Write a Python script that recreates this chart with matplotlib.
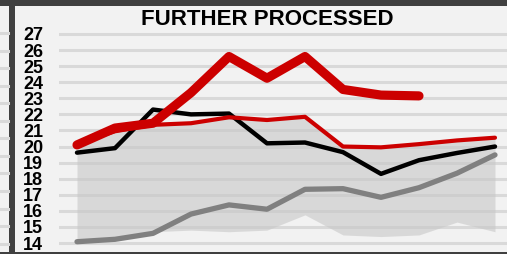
import matplotlib.pyplot as plt
from matplotlib.patches import Rectangle
from matplotlib.lines import Line2D
import numpy as np

plt.rcParams['font.family'] = ['Liberation Sans', 'DejaVu Sans']

W, H = 507, 254

# monthly points (no x labels shown on the chart)
months = list(range(12))
yticks = list(range(14, 28))

# current year (thick red, stops early)
current = [20.1, 21.15, 21.45, 23.35, 25.6, 24.25, 25.6, 23.55, 23.2, 23.15]
# previous year (thin red)
previous = [20.2, 20.95, 21.35, 21.45, 21.82, 21.65, 21.85, 20.0, 19.95, 20.15, 20.38, 20.55]
# average (black)
average = [19.62, 19.9, 22.3, 22.0, 22.05, 20.2, 20.25, 19.65, 18.3, 19.15, 19.6, 20.0]
# low series (grey)
low_line = [14.08, 14.23, 14.6, 15.8, 16.37, 16.1, 17.34, 17.38, 16.84, 17.44, 18.34, 19.48]
# min/max band
band_low = [14.05, 14.2, 14.7, 14.8, 14.7, 14.8, 15.75, 14.5, 14.4, 14.5, 15.3, 14.7]
band_high = [20.1, 20.9, 21.3, 21.4, 21.8, 21.6, 21.8, 19.95, 19.9, 20.1, 20.35, 20.5]

fig = plt.figure(figsize=(W / 100, H / 100), dpi=100, facecolor='#f2f2f2')

# axes placed in pixel terms: x 59..507, y 6..252 (from top)
ax = fig.add_axes([59 / W, 1 - 252 / H, 1 - 59 / W, (252 - 6) / H])
ax.set_facecolor('#f2f2f2')

px_per_unit = (243 - 34) / 13
ax.set_ylim(14 - (252 - 243) / px_per_unit, 27 + (34 - 6) / px_per_unit)
step = (495 - 77) / 11
ax.set_xlim(-(77 - 59) / step, 11 + (507 - 495) / step)

for y in yticks:
    ax.axhline(y, color='#d9d9d9', lw=2.2, zorder=1)

ax.fill_between(months, band_low, band_high, color='#c8c8c8', alpha=0.6,
                lw=0, zorder=2)

ax.plot(months, low_line, color='#808080', lw=3.8, solid_capstyle='round',
        solid_joinstyle='round', zorder=3)
ax.plot(months, average, color='black', lw=3.2, solid_capstyle='round',
        solid_joinstyle='round', zorder=4)
ax.plot(months, previous, color='#cc0000', lw=3.0, solid_capstyle='round',
        solid_joinstyle='round', zorder=5)
ax.plot(months[:len(current)], current, color='#cc0000', lw=6.6,
        solid_capstyle='round', solid_joinstyle='round', zorder=6)

ax.set_yticks(yticks)
ax.set_yticklabels([str(v) for v in yticks], fontsize=13, fontweight='bold')
ax.tick_params(axis='y', length=0, pad=11.5)
ax.set_xticks([])
for s in ax.spines.values():
    s.set_visible(False)

fig.text(267 / W, 1 - 25 / H, 'FURTHER PROCESSED', ha='center', va='baseline',
         fontsize=16, fontweight='bold')

# frame bits from the neighbouring panel
for k in range(13):
    yy = 1 - (33 + 17.55 * k) / H
    fig.add_artist(Line2D([0, 8 / W], [yy, yy], color='#d9d9d9', lw=2.2))
fig.add_artist(Rectangle((9 / W, 0), 6 / W, 1, color='#404040', lw=0))
fig.add_artist(Rectangle((0, 1 - 5.5 / H), 1, 5.5 / H, color='#404040', lw=0))
fig.add_artist(Rectangle((0, 0), 1, 2.5 / H, color='#404040', lw=0))

fig.savefig('out.png', dpi=100, facecolor=fig.get_facecolor())
